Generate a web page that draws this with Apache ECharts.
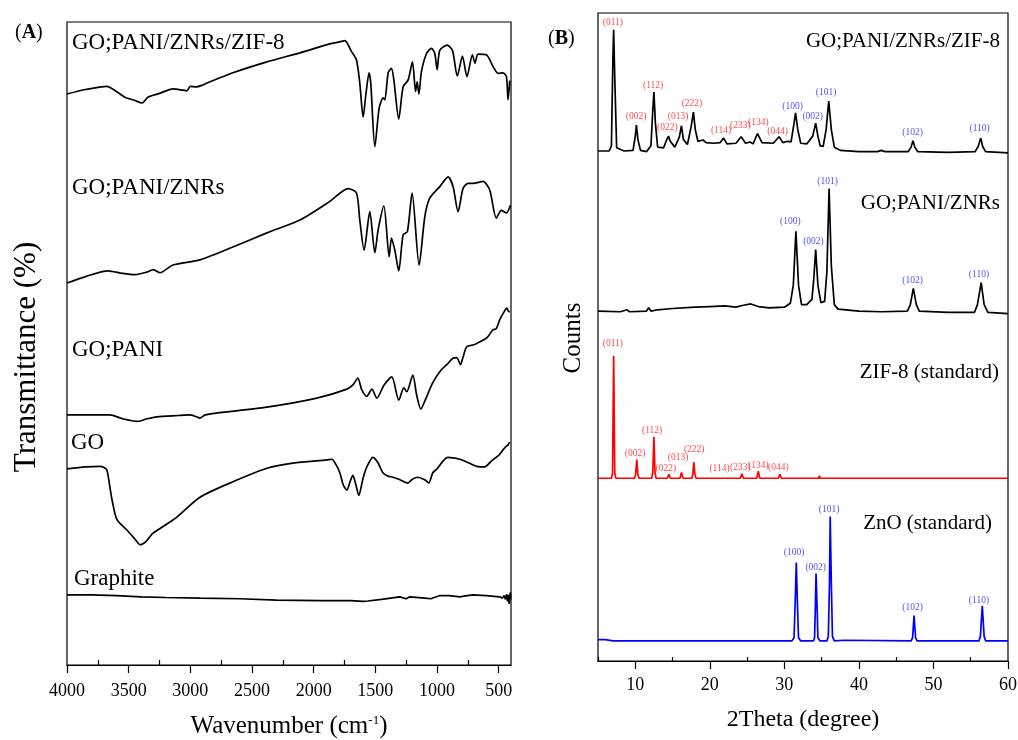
<!DOCTYPE html>
<html>
<head>
<meta charset="utf-8">
<script src="https://cdn.jsdelivr.net/npm/echarts@6.0.0/dist/echarts.min.js"></script>
<style>
  html, body { margin: 0; padding: 0; background: #fff; }
  #main { width: 1018px; height: 740px; }
</style>
</head>
<body>
<div id="main"></div>
<script>
// (A) FTIR spectra, [wavenumber, transmittance (a.u., offset)]
const ftirZif8 = [[4000,88.8],[3850,89.5],[3676,90.0],[3600,89.2],[3530,88.3],[3450,87.8],[3392,87.4],[3344,88.3],[3250,88.9],[3141,89.6],[3060,89.4],[3028,89.3],[3000,90.0],[2950,89.9],[2900,90.2],[2866,90.5],[2655,92.1],[2379,93.8],[2112,95.2],[1869,96.6],[1790,96.9],[1747,97.1],[1693,95.4],[1653,94.1],[1626,90.5],[1599,85.2],[1575,89.0],[1551,92.1],[1537,90.5],[1504,80.6],[1469,86.6],[1437,88.2],[1423,87.9],[1396,92.1],[1369,92.8],[1350,91.0],[1310,84.9],[1275,89.9],[1234,91.0],[1199,93.8],[1174,89.2],[1161,90.7],[1147,88.8],[1126,92.3],[1085,95.1],[1045,95.9],[1018,95.1],[999,92.6],[977,95.6],[918,96.4],[875,95.6],[835,91.6],[794,94.7],[757,91.5],[713,94.9],[692,93.6],[667,95.0],[600,94.9],[546,93.1],[505,92.0],[465,92.1],[437,91.5],[424,87.9],[410,90.9]];
const ftirZnrs = [[4000,59.4],[3850,60.4],[3668,61.3],[3550,60.9],[3449,60.7],[3352,61.1],[3300,61.5],[3246,61.0],[3141,62.2],[2922,63.0],[2655,65.0],[2379,67.2],[2112,69.2],[1869,72.1],[1721,74.1],[1653,73.4],[1626,69.2],[1591,64.5],[1545,70.5],[1504,64.1],[1477,67.7],[1431,71.4],[1388,63.5],[1369,66.4],[1342,64.5],[1310,61.3],[1275,66.9],[1240,67.4],[1202,73.4],[1145,62.2],[1099,69.7],[1059,72.6],[977,74.4],[910,75.9],[870,74.4],[829,70.5],[789,74.1],[748,74.9],[708,74.9],[627,75.2],[573,73.9],[519,69.5],[478,70.7],[437,70.3],[405,71.5]];
const ftirPani = [[4000,38.9],[3800,38.9],[3652,38.9],[3550,38.3],[3425,37.9],[3350,38.3],[3271,38.6],[3100,38.8],[3003,38.9],[2950,38.6],[2922,38.4],[2880,38.9],[2784,39.2],[2379,40.1],[1974,41.5],[1731,42.9],[1680,43.6],[1642,44.6],[1610,42.8],[1569,41.8],[1528,42.9],[1488,41.5],[1430,43.5],[1367,44.8],[1310,41.2],[1269,43.1],[1245,42.5],[1196,45.1],[1165,42.0],[1131,39.8],[1100,41.0],[1034,43.9],[970,45.8],[921,46.7],[872,47.7],[840,47.8],[810,46.7],[790,47.8],[759,49.5],[700,49.8],[629,50.5],[590,51.0],[548,52.1],[520,52.3],[491,53.7],[460,54.8],[434,55.5],[420,55.0],[410,54.9]];
const ftirGo = [[4000,30.5],[3850,30.8],[3733,30.9],[3700,30.7],[3676,30.3],[3655,28.0],[3635,25.7],[3595,22.6],[3514,21.0],[3450,19.6],[3408,18.7],[3360,19.2],[3303,20.5],[3200,21.8],[3109,23.0],[2922,26.1],[2655,28.5],[2379,30.6],[2168,31.4],[1893,31.9],[1853,32.0],[1820,31.2],[1788,29.9],[1760,28.0],[1731,27.2],[1705,28.5],[1682,29.5],[1660,28.2],[1634,26.4],[1600,29.0],[1569,30.8],[1520,32.3],[1480,31.5],[1439,29.9],[1400,29.4],[1358,29.2],[1300,28.8],[1237,28.3],[1200,28.9],[1156,29.2],[1100,28.8],[1067,28.3],[1034,29.9],[1000,30.5],[913,32.3],[815,32.0],[750,31.5],[678,30.9],[613,30.8],[580,31.3],[548,31.9],[500,32.6],[467,33.4],[440,34.0],[425,34.2],[410,34.7]];
const ftirGraphite = [[4000,10.9],[3800,10.9],[3600,10.8],[3400,10.6],[3200,10.5],[2922,10.4],[2600,10.3],[2300,10.1],[1950,10.0],[1700,10.0],[1600,9.9],[1585,9.7],[1560,9.95],[1450,10.2],[1302,10.6],[1250,10.3],[1220,10.6],[1099,10.4],[1050,10.3],[977,10.8],[900,10.8],[815,10.6],[799,10.3],[780,10.7],[710,10.9],[600,10.8],[491,10.6],[470,10.4],[455,10.8],[445,10.2],[435,11.0],[428,9.9],[420,10.9],[415,9.5],[410,10.6],[405,11.3],[402,10.2]];

// (B) XRD patterns, [2theta, counts (a.u., offset)]
const xrdComposite = [[5,78.7],[6.5,78.7],[6.8,79.5],[7.0,93],[7.1,97.4],[7.25,90],[7.5,79.2],[8.5,78.7],[9.7,78.8],[10.0,81],[10.15,82.7],[10.35,80.5],[10.7,78.8],[11.5,78.6],[12.1,79.5],[12.35,85],[12.5,87.8],[12.7,83],[13.0,79.3],[13.8,79.2],[14.2,80.4],[14.45,81.0],[14.7,80.2],[15.3,79.3],[15.9,80.8],[16.2,82.6],[16.45,80.5],[17.0,79.7],[17.5,82.5],[17.8,84.7],[18.05,82],[18.4,80.2],[19.1,80.4],[19.5,80.0],[20.5,79.9],[21.4,80.0],[21.85,80.7],[22.3,79.8],[23.5,79.9],[24.2,80.9],[24.8,79.9],[25.4,80.1],[25.8,79.8],[26.4,81.4],[27.0,80.0],[28.5,79.9],[29.3,80.9],[29.8,80.0],[30.4,80.2],[30.9,80.1],[31.3,83],[31.5,84.6],[31.8,82],[32.2,79.9],[33.0,79.8],[33.8,81],[34.2,83.0],[34.5,81],[34.8,79.5],[35.2,79.4],[35.6,82],[35.95,86.4],[36.3,82],[36.7,79.3],[37.5,78.8],[40,78.6],[42.5,78.6],[43.0,78.8],[43.5,78.6],[46.6,78.6],[47.0,79.3],[47.25,80.3],[47.5,79.3],[47.9,78.6],[52,78.5],[55.6,78.6],[56.0,79.4],[56.35,80.7],[56.6,79.4],[57.0,78.6],[60,78.4]];
const xrdZnrs = [[5,54.0],[8,53.9],[8.9,54.2],[9.2,53.9],[11.5,54.0],[11.8,54.5],[12.1,54.0],[13,54.2],[15,54.4],[18,54.6],[20,54.7],[22,54.8],[23.5,54.6],[24.5,54.9],[25.5,55.1],[26.5,54.7],[28,54.5],[30,54.6],[30.8,55.2],[31.2,58],[31.55,66.3],[31.9,58],[32.3,55.0],[33.0,55.0],[33.7,55.8],[33.95,59],[34.2,63.5],[34.5,58],[34.9,55.3],[35.4,55.5],[35.7,60],[36.0,72.9],[36.3,61],[36.7,55.0],[37.2,54.3],[40,54.0],[43,53.9],[46.5,54.0],[46.9,55],[47.3,57.5],[47.7,55],[48.1,54.0],[52,53.8],[55.5,53.8],[55.9,55],[56.4,58.4],[56.8,55],[57.3,53.8],[60,53.6]];
const xrdZif8Std = [[5,28.2],[6.8,28.2],[6.95,29],[7.1,47.1],[7.25,29],[7.4,28.2],[9.9,28.2],[10.05,28.8],[10.2,31.1],[10.35,28.8],[10.5,28.2],[12.2,28.2],[12.35,29],[12.5,34.6],[12.65,29],[12.8,28.2],[14.3,28.2],[14.5,28.8],[14.7,28.2],[16.0,28.2],[16.2,29.1],[16.4,28.2],[17.6,28.2],[17.72,28.8],[17.85,30.7],[18.0,28.8],[18.15,28.2],[21.7,28.2],[21.9,28.5],[22.1,28.2],[24.1,28.2],[24.3,28.9],[24.5,28.2],[25.2,28.2],[25.3,28.5],[25.4,28.2],[26.3,28.2],[26.5,29.3],[26.7,28.2],[29.2,28.2],[29.4,28.8],[29.6,28.2],[30.3,28.2],[30.4,28.5],[30.5,28.2],[31.2,28.2],[31.3,28.5],[31.4,28.2],[32.1,28.2],[32.2,28.5],[32.3,28.2],[34.6,28.2],[34.7,28.6],[34.8,28.2],[36.2,28.2],[36.3,28.4],[36.4,28.2],[60,28.2]];
const xrdZnoStd = [[5,3.3],[6,3.3],[7,3.1],[31.0,3.1],[31.3,3.6],[31.45,9],[31.6,15.2],[31.75,9],[31.9,3.6],[32.2,3.1],[33.9,3.1],[34.05,3.6],[34.15,8],[34.25,13.5],[34.4,8],[34.5,3.6],[34.8,3.1],[35.7,3.1],[35.9,3.8],[36.05,12],[36.15,22.3],[36.3,12],[36.45,3.8],[36.7,3.1],[38,3.2],[47.0,3.1],[47.2,3.6],[47.4,7.0],[47.6,3.6],[47.8,3.1],[56.1,3.1],[56.3,3.8],[56.55,8.5],[56.8,3.8],[57.0,3.1],[60,3.1]];

// hkl labels [2theta, y, text]
const hklCompZif = [[7.0,98.6,'(011)'],[10.1,84.0,'(002)'],[12.4,88.8,'(112)'],[14.3,82.3,'(022)'],[15.75,84.0,'(013)'],[17.6,86.0,'(222)'],[21.5,81.8,'(114)'],[24.1,82.6,'(233)'],[26.5,83.1,'(134)'],[29.1,81.7,'(044)']];
const hklCompZno = [[31.1,85.5,'(100)'],[33.8,84.0,'(002)'],[35.6,87.8,'(101)'],[47.2,81.5,'(102)'],[56.2,82.1,'(110)']];
const hklZnrs = [[35.8,74.0,'(101)'],[30.8,67.8,'(100)'],[33.9,64.7,'(002)'],[47.2,58.7,'(102)'],[56.1,59.6,'(110)']];
const hklZif8Std = [[7.0,49.0,'(011)'],[9.97,32.0,'(002)'],[12.26,35.6,'(112)'],[14.1,29.7,'(022)'],[15.75,31.4,'(013)'],[17.9,32.7,'(222)'],[21.3,29.7,'(114)'],[24.1,29.9,'(233)'],[26.5,30.2,'(134)'],[29.2,29.9,'(044)']];
const hklZnoStd = [[31.3,16.8,'(100)'],[34.2,14.5,'(002)'],[36.0,23.4,'(101)'],[47.2,8.2,'(102)'],[56.1,9.4,'(110)']];

const ftirMajor = [500,1000,1500,2000,2500,3000,3500,4000];
const ftirMinor = [750,1250,1750,2250,2750,3250,3750];
const xrdMajor = [10,20,30,40,50,60];
const xrdMinor = [5,15,25,35,45,55];

const FONT = '"Liberation Serif", "Times New Roman", serif';
const RED = '#ff1a1a';
const BLUE = '#2626ff';

const chart = echarts.init(document.getElementById('main'));

function lineSeries(data, color, xi, yi, smooth) {
  return {
    type: 'line', data: data, xAxisIndex: xi, yAxisIndex: yi,
    showSymbol: false, symbol: 'none', silent: true, smooth: smooth || false,
    lineStyle: { color: color, width: 1.7 }
  };
}
function hklSeries(list, color) {
  return {
    type: 'scatter', xAxisIndex: 2, yAxisIndex: 1, silent: true,
    symbolSize: 1, itemStyle: { color: 'rgba(0,0,0,0)' },
    data: list.map(d => ({ value: [d[0], d[1]], name: d[2] })),
    label: {
      show: true, position: 'inside', formatter: p => p.name,
      color: color, fontSize: 9.5, fontFamily: FONT
    },
    z: 5
  };
}
function labelText(text, x, y, size, align) {
  return {
    type: 'text', x: x, y: y, silent: true,
    style: { text: text, fontSize: size, fontFamily: FONT, fill: '#000', align: align, verticalAlign: 'middle' }
  };
}

const axisCommon = {
  axisLine: { show: true, onZero: false, lineStyle: { color: '#000', width: 1.2 } },
  splitLine: { show: false }
};

chart.setOption({
  animation: false,
  backgroundColor: '#fff',
  grid: [
    { left: 67, top: 22, width: 444, height: 643, outerBoundsMode: 'none', containLabel: false,
      show: true, borderColor: '#000', borderWidth: 1.2 },
    { left: 598, top: 13, width: 410, height: 648, outerBoundsMode: 'none', containLabel: false,
      show: true, borderColor: '#000', borderWidth: 1.2 }
  ],
  xAxis: [
    Object.assign({}, axisCommon, {
      gridIndex: 0, type: 'value', min: 400, max: 4000, inverse: true,
      axisTick: { show: true, customValues: ftirMajor, length: 8, lineStyle: { color: '#000', width: 1.2 } },
      axisLabel: { customValues: ftirMajor, formatter: v => String(v), color: '#000', fontSize: 18, fontFamily: FONT, margin: 17 },
      name: '{t|Wavenumber (cm}{s|-1}{t|)}', nameLocation: 'middle', nameGap: 49,
      nameTextStyle: { rich: {
        t: { fontSize: 25, fontFamily: FONT, color: '#000' },
        s: { fontSize: 13, fontFamily: FONT, color: '#000', verticalAlign: 'top', padding: [0, 0, 10, 0] }
      } }
    }),
    {
      gridIndex: 0, type: 'value', min: 400, max: 4000, inverse: true,
      axisLine: { show: false }, splitLine: { show: false }, axisLabel: { show: false },
      axisTick: { show: true, customValues: ftirMinor, length: 5, lineStyle: { color: '#000', width: 1.2 } }
    },
    Object.assign({}, axisCommon, {
      gridIndex: 1, type: 'value', min: 5, max: 60,
      axisTick: { show: true, customValues: xrdMajor, length: 8, lineStyle: { color: '#000', width: 1.2 } },
      axisLabel: { customValues: xrdMajor, formatter: v => String(v), color: '#000', fontSize: 18, fontFamily: FONT, margin: 15 },
      name: '2Theta (degree)', nameLocation: 'middle', nameGap: 47,
      nameTextStyle: { fontSize: 24, fontFamily: FONT, color: '#000' }
    }),
    {
      gridIndex: 1, type: 'value', min: 5, max: 60,
      axisLine: { show: false }, splitLine: { show: false }, axisLabel: { show: false },
      axisTick: { show: true, customValues: xrdMinor, length: 4, lineStyle: { color: '#000', width: 1.2 } }
    }
  ],
  yAxis: [
    { gridIndex: 0, type: 'value', min: 0, max: 100, show: false },
    { gridIndex: 1, type: 'value', min: 0, max: 100, show: false }
  ],
  series: [
    lineSeries(ftirZif8, '#000', 0, 0, 0.25),
    lineSeries(ftirZnrs, '#000', 0, 0, 0.25),
    lineSeries(ftirPani, '#000', 0, 0, 0.25),
    lineSeries(ftirGo, '#000', 0, 0, 0.25),
    lineSeries(ftirGraphite, '#000', 0, 0),
    lineSeries(xrdComposite, '#000', 2, 1),
    lineSeries(xrdZnrs, '#000', 2, 1),
    lineSeries(xrdZif8Std, '#ff0000', 2, 1),
    lineSeries(xrdZnoStd, '#0000ff', 2, 1),
    hklSeries(hklCompZif, RED),
    hklSeries(hklCompZno, BLUE),
    hklSeries(hklZnrs, BLUE),
    hklSeries(hklZif8Std, RED),
    hklSeries(hklZnoStd, BLUE)
  ],
  graphic: [
    {
      type: 'text', x: 15, y: 33, silent: true,
      style: { text: '({b|A})', fontSize: 20, fontFamily: FONT, fill: '#000', verticalAlign: 'middle',
        rich: { b: { fontSize: 20, fontFamily: FONT, fontWeight: 'bold', fill: '#000' } } }
    },
    {
      type: 'text', x: 548, y: 39, silent: true,
      style: { text: '({b|B})', fontSize: 20, fontFamily: FONT, fill: '#000', verticalAlign: 'middle',
        rich: { b: { fontSize: 20, fontFamily: FONT, fontWeight: 'bold', fill: '#000' } } }
    },
    {
      type: 'text', x: 27, y: 357, rotation: Math.PI / 2, silent: true,
      style: { text: 'Transmittance (%)', fontSize: 31, fontFamily: FONT, fill: '#000', align: 'center', verticalAlign: 'middle' }
    },
    {
      type: 'text', x: 573, y: 338, rotation: Math.PI / 2, silent: true,
      style: { text: 'Counts', fontSize: 25, fontFamily: FONT, fill: '#000', align: 'center', verticalAlign: 'middle' }
    },
    labelText('GO;PANI/ZNRs/ZIF-8', 72, 43, 23, 'left'),
    labelText('GO;PANI/ZNRs', 72, 188, 23, 'left'),
    labelText('GO;PANI', 72, 350, 23, 'left'),
    labelText('GO', 71, 443, 23, 'left'),
    labelText('Graphite', 74, 579, 23, 'left'),
    labelText('GO;PANI/ZNRs/ZIF-8', 1000, 41, 21, 'right'),
    labelText('GO;PANI/ZNRs', 1000, 203, 21, 'right'),
    labelText('ZIF-8 (standard)', 999, 372, 21, 'right'),
    labelText('ZnO (standard)', 992, 523, 21, 'right')
  ]
});
</script>
</body>
</html>
